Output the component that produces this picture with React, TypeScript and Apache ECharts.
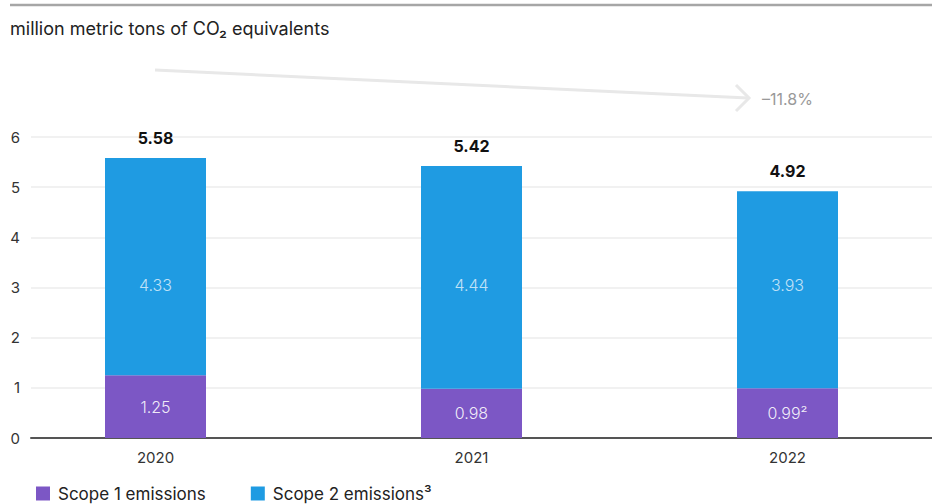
import React, { useEffect, useRef } from "react";
import * as echarts from "echarts";

const years = ["2020", "2021", "2022"];
const scope1 = [1.25, 0.98, 0.99];
const scope1Labels = ["1.25", "0.98", "0.99²"];
const scope2 = [4.33, 4.44, 3.93];
const scope2Labels = ["4.33", "4.44", "3.93"];
const totals = ["5.58", "5.42", "4.92"];
const scope2LabelLevel = 3.05;
const yTicks = { min: 0, max: 6, interval: 1 };
const changeLabel = "\u201311.8%";
const titleText = "million metric tons of CO\u2082 equivalents";
const legendNames = ["Scope 1 emissions", "Scope 2 emissions\u00b3"];

const FONT = "Inter, 'Helvetica Neue', Arial, sans-serif";

export default function App() {
  const ref = useRef<HTMLDivElement>(null);
  useEffect(() => {
    if (!ref.current) return;
    const chart = echarts.init(ref.current, null, { renderer: "svg" });
    chart.setOption({
      animation: false,
      backgroundColor: "#ffffff",
      textStyle: { fontFamily: FONT },
      grid: [
        { left: 31, right: 0, top: 137, bottom: 66, outerBoundsMode: "none" },
        { left: -2.5, width: 948, top: 137, bottom: 66, outerBoundsMode: "none" },
      ],
      xAxis: [
        {
          gridIndex: 0,
          type: "value",
          min: 0,
          max: 1,
          axisLine: { show: true, onZero: false, lineStyle: { color: "#555555", width: 2 } },
          axisTick: { show: false },
          axisLabel: { show: false },
          splitLine: { show: false },
        },
        {
          gridIndex: 1,
          type: "category",
          data: years,
          axisLine: { show: false },
          axisTick: { show: false },
          axisLabel: { color: "#333333", fontSize: 15, margin: 12, fontFamily: FONT },
        },
      ],
      yAxis: [
        {
          gridIndex: 0,
          type: "value",
          min: yTicks.min,
          max: yTicks.max,
          interval: yTicks.interval,
          axisLine: { show: false },
          axisTick: { show: false },
          axisLabel: { color: "#333333", fontSize: 15, margin: 11, fontFamily: FONT },
          splitLine: { show: true, lineStyle: { color: "#ececec", width: 1.5 } },
        },
        {
          gridIndex: 1,
          type: "value",
          min: yTicks.min,
          max: yTicks.max,
          interval: yTicks.interval,
          show: false,
          splitLine: { show: false },
        },
      ],
      legend: {
        left: 31,
        top: 480,
        icon: "rect",
        itemWidth: 14,
        itemHeight: 14,
        itemGap: 45,
        data: legendNames,
        textStyle: { color: "#222222", fontSize: 17, fontFamily: FONT, padding: [0, 0, 0, 3] },
      },
      series: [
        {
          name: legendNames[0],
          type: "bar",
          stack: "total",
          xAxisIndex: 1,
          yAxisIndex: 1,
          barWidth: 101,
          data: scope1,
          itemStyle: { color: "#7c57c5" },
          label: {
            show: true,
            position: "inside",
            color: "rgba(255,255,255,0.9)",
            fontSize: 16,
            fontWeight: 300,
            fontFamily: FONT,
            formatter: (p: any) => scope1Labels[p.dataIndex],
          },
        },
        {
          name: legendNames[1],
          type: "bar",
          stack: "total",
          xAxisIndex: 1,
          yAxisIndex: 1,
          barWidth: 101,
          data: scope2,
          itemStyle: { color: "#1f9be2" },
          label: {
            show: true,
            position: "top",
            distance: 12,
            color: "#111111",
            fontSize: 16,
            fontWeight: "bold",
            fontFamily: FONT,
            formatter: (p: any) => totals[p.dataIndex],
          },
        },
        {
          name: "scope2labels",
          type: "scatter",
          xAxisIndex: 1,
          yAxisIndex: 1,
          symbolSize: 0,
          silent: true,
          data: years.map((_, i) => [i, scope2LabelLevel]),
          label: {
            show: true,
            position: "inside",
            color: "rgba(255,255,255,0.9)",
            fontSize: 16,
            fontWeight: 300,
            fontFamily: FONT,
            formatter: (p: any) => scope2Labels[p.dataIndex],
          },
        },
      ],
      graphic: [
        {
          type: "line",
          shape: { x1: 10, y1: 5, x2: 932, y2: 5 },
          style: { stroke: "#a6a6a6", lineWidth: 2.5 },
        },
        {
          type: "text",
          left: 10,
          top: 19,
          style: { text: titleText, fill: "#222222", fontSize: 18, fontFamily: FONT },
        },
        {
          type: "line",
          shape: { x1: 155, y1: 70, x2: 748, y2: 98 },
          style: { stroke: "#e8e8e8", lineWidth: 3 },
        },
        {
          type: "polyline",
          shape: { points: [[736, 85], [749, 98], [736, 111]] },
          style: { stroke: "#e8e8e8", lineWidth: 3, fill: "none" },
        },
        {
          type: "text",
          left: 762,
          top: 91,
          style: { text: changeLabel, fill: "#999999", fontSize: 16, fontFamily: FONT },
        },
      ],
    });
    return () => chart.dispose();
  }, []);
  return (
    <div
      ref={ref}
      style={{ position: "fixed", left: 0, top: 0, width: 932, height: 504 }}
    />
  );
}
